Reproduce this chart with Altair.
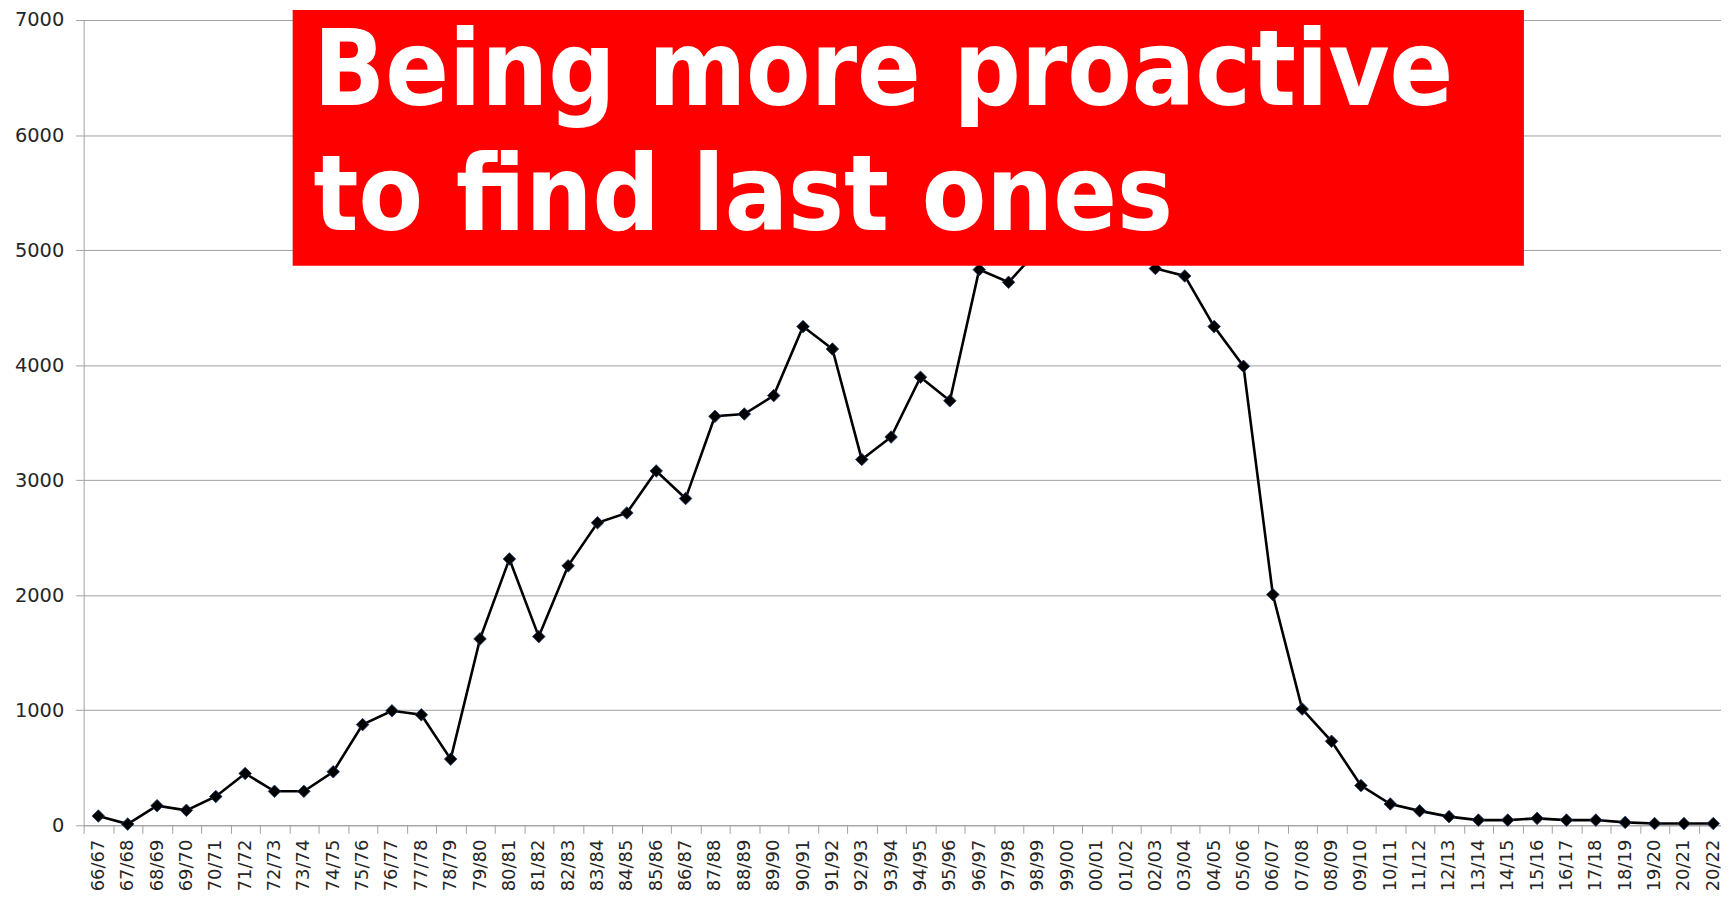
import altair as alt
import pandas as pd

seasons = [
    "66/67", "67/68", "68/69", "69/70", "70/71", "71/72", "72/73", "73/74", "74/75",
    "75/76", "76/77", "77/78", "78/79", "79/80", "80/81", "81/82", "82/83", "83/84",
    "84/85", "85/86", "86/87", "87/88", "88/89", "89/90", "90/91", "91/92", "92/93",
    "93/94", "94/95", "95/96", "96/97", "97/98", "98/99", "99/00", "00/01", "01/02",
    "02/03", "03/04", "04/05", "05/06", "06/07", "07/08", "08/09", "09/10", "10/11",
    "11/12", "12/13", "13/14", "14/15", "15/16", "16/17", "17/18", "18/19", "19/20",
    "20/21", "20/22",
]
cases = [
    80, 10, 170, 130, 250, 450, 295, 295, 465,
    875, 995, 960, 575, 1620, 2315, 1640, 2255, 2630,
    2715, 3080, 2840, 3555, 3575, 3735, 4335, 4140, 3180,
    3375, 3895, 3690, 4830, 4720, 5000, 5450, 5550, 5250,
    4840, 4775, 4335, 3990, 2005, 1010, 730, 345, 185,
    125, 75, 45, 45, 60, 45, 45, 25, 15,
    15, 15,
]
y_ticks = [0, 1000, 2000, 3000, 4000, 5000, 6000, 7000]
title_lines = ["Being more proactive", "to find last ones"]

df = pd.DataFrame({"season": seasons, "cases": cases})

TITLE_FONT = "DejaVu Sans Condensed, DejaVu Sans"
LABEL_FONT = "DejaVu Sans"
GRAY = "#a0a0a0"

x_enc = alt.X(
    "season:N",
    sort=None,
    bandPosition=0.5,
    scale=alt.Scale(type="band", range=[0, 1652], paddingInner=0, paddingOuter=0),
    axis=alt.Axis(
        title=None,
        labelAngle=-90,
        tickBand="extent",
        grid=False,
        domainColor=GRAY,
        tickColor=GRAY,
        tickSize=8,
        labelPadding=6,
        labelFont=LABEL_FONT,
        labelFontSize=18,
        labelColor="#262626",
        labelOverlap=False,
    ),
)
y_enc = alt.Y(
    "cases:Q",
    scale=alt.Scale(domain=[0, 7000], nice=False, zero=True),
    axis=alt.Axis(
        title=None,
        values=y_ticks,
        format="d",
        grid=True,
        gridColor=GRAY,
        domainColor=GRAY,
        tickColor=GRAY,
        tickSize=8,
        labelPadding=12,
        labelFont=LABEL_FONT,
        labelFontSize=19.5,
        labelColor="#262626",
    ),
)

base = alt.Chart(df).encode(x=x_enc, y=y_enc)
line = base.mark_line(color="black", strokeWidth=2.6)
pts = base.mark_point(
    shape="diamond", filled=True, size=160, color="black", opacity=1,
    stroke="#1f3a6e", strokeWidth=0.8,
)

one = alt.Data(values=[{}])
box = alt.Chart(one).mark_rect(color="#ff0000").encode(
    x=alt.value(210), x2=alt.value(1447), y=alt.value(-10), y2=alt.value(247)
)
txt1 = alt.Chart(one).mark_text(
    align="left", baseline="alphabetic", font=TITLE_FONT, fontWeight="bold",
    fontSize=105, color="white",
).encode(x=alt.value(231), y=alt.value(85), text=alt.value(title_lines[0]))
txt2 = alt.Chart(one).mark_text(
    align="left", baseline="alphabetic", font=TITLE_FONT, fontWeight="bold",
    fontSize=105, color="white",
).encode(x=alt.value(231), y=alt.value(211), text=alt.value(title_lines[1]))

chart = alt.layer(line, pts, box, txt1, txt2).properties(
    width=1645,
    height=809,
    padding={"left": 76, "top": 10, "right": 0, "bottom": 70},
    autosize=alt.AutoSizeParams(type="none"),
).configure_view(stroke=None)

chart.save("out.html", embed_options={"renderer": "svg", "actions": False})
